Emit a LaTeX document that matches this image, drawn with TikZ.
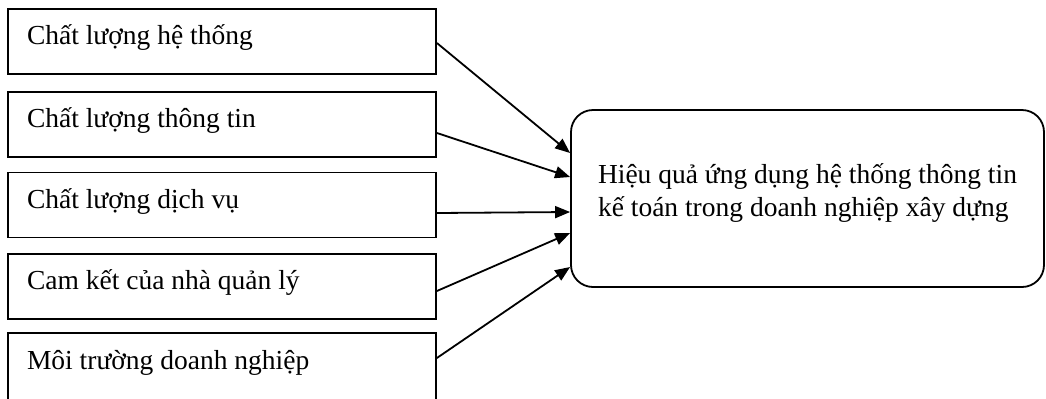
\documentclass[tikz,border=0pt]{standalone}
\usepackage{fontspec}
\setmainfont{Liberation Serif}
\usetikzlibrary{arrows.meta}

\tikzset{
  factor/.style={draw, line width=0.9pt, rectangle, minimum height=32.5pt,
    text width=195pt, inner xsep=9.5pt, align=flush left,
    text height=9pt, text depth=6pt},
  outcome/.style={draw, line width=0.9pt, rounded corners=11pt,
    minimum width=236.5pt, minimum height=88.5pt, align=left}
}

\begin{document}
\begin{tikzpicture}[>={Triangle[length=7.5pt,width=6pt]}, x=0.5pt, y=-0.5pt,
    font=\fontsize{13.75}{16.5}\selectfont]
\clip (0,0) rectangle (1046,398);

\node[factor] (ht) at (222,41.5){Chất lượng hệ thống};
\node[factor] (tt) at (222,124.5){Chất lượng thông tin};
\node[factor] (dv) at (222,205){Chất lượng dịch vụ};
\node[factor] (ck) at (222,286.5){Cam kết của nhà quản lý};
\node[factor, minimum height=33.5pt] (mt) at (222,366.5){Môi trường doanh nghiệp};

\node[outcome] (hq) at (807.5,198.5){Hiệu quả ứng dụng hệ thống thông tin\\kế toán trong doanh nghiệp xây dựng\rule[-8.5pt]{0pt}{0pt}};

\draw[->, line width=0.9pt] ([yshift=-0.75pt]ht.east)--([yshift=22.75pt]hq.west);
\draw[->, line width=0.9pt] ([yshift=-4.25pt]tt.east)--([yshift=10.75pt]hq.west);
\draw[->, line width=0.9pt] ([yshift=-4pt]dv.east)--([yshift=-6.75pt]hq.west);
\draw[->, line width=0.9pt] ([yshift=-2.25pt]ck.east)--([yshift=-17.25pt]hq.west);
\draw[->, line width=0.9pt] ([yshift=4.25pt]mt.east)--([yshift=-34.25pt]hq.west);

\end{tikzpicture}
\end{document}
